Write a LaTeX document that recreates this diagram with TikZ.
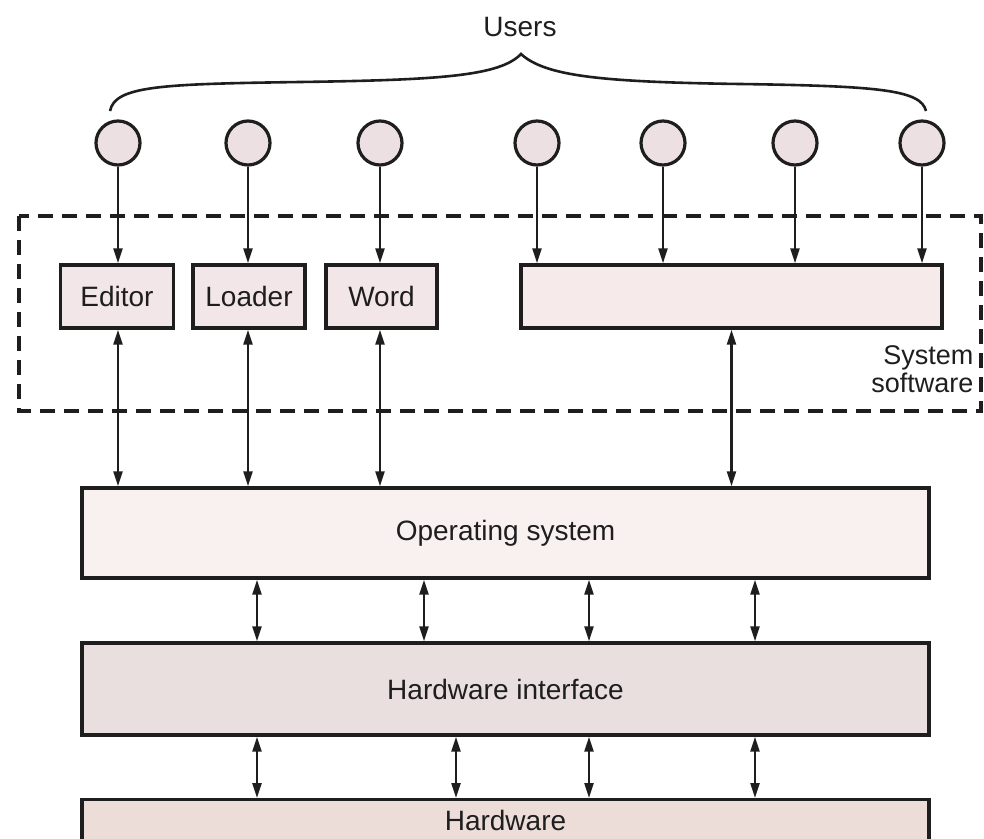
\documentclass[tikz,border=0pt]{standalone}
\usepackage{fontspec}
\setmainfont{Liberation Sans}
\usetikzlibrary{arrows.meta,shapes.geometric}

\definecolor{ink}{HTML}{1E1E1E}
\definecolor{userfill}{HTML}{ECE0E2}
\definecolor{appfill}{HTML}{F3E6E8}
\definecolor{sysfill}{HTML}{F6EAEA}
\definecolor{osfill}{HTML}{F8F1F0}
\definecolor{hifill}{HTML}{E9DFDF}
\definecolor{hwfill}{HTML}{EDDDD9}

\tikzset{
  lbl/.style={font=\fontsize{28}{30}\selectfont, text=ink},
  user/.style={ellipse, draw=ink, line width=3.2pt, fill=userfill,
    minimum width=44pt, minimum height=44pt, inner sep=0pt},
  appbox/.style={draw=ink, line width=3.4pt, fill=appfill, lbl,
    minimum height=63pt, inner sep=0pt},
  layer/.style={draw=ink, line width=3.4pt, lbl, minimum width=847pt, inner sep=0pt},
  down/.style={draw=ink, line width=2.2pt, -{Triangle[length=15pt,width=9pt]}},
  dbl/.style={draw=ink, line width=2.2pt, {Triangle[length=15pt,width=9pt]}-{Triangle[length=15pt,width=9pt]}},
  group/.style={draw=ink, line width=3.4pt, dash pattern=on 15pt off 9pt},
}

\begin{document}
\begin{tikzpicture}[x=1pt,y=-1pt]
\useasboundingbox (0,0) rectangle (984,838);
\clip (0,0) rectangle (984,838);
\fill[white] (0,0) rectangle (984,838);

% users and the brace over them
\node[lbl] (users) at (520,27) {Users};
\draw[ink, line width=2.6pt]
  (110,111) .. controls (115,86) and (160,84) .. (300,82)
            .. controls (440,80) and (500,76) .. (521,54)
            .. controls (545,76) and (600,82) .. (740,84)
            .. controls (880,86) and (921,90) .. (926,111);

\foreach \i/\x in {1/118,2/248,3/380,4/537,5/663,6/795,7/922}
  \node[user] (u\i) at (\x,143) {};

% system software group
\draw[group] (19,216) rectangle (981,411);
\node[lbl, align=right, anchor=east, font=\fontsize{27}{28}\selectfont] (syslbl) at (977,369) {System\\software};

\node[appbox, minimum width=113pt] (editor) at (117,296.5) {Editor};
\node[appbox, minimum width=112pt] (loader) at (249,296.5) {Loader};
\node[appbox, minimum width=111pt] (word)   at (381.5,296.5) {Word};
\node[appbox, minimum width=421pt, fill=sysfill] (sys) at (731.5,296.5) {};

% layers
\node[layer, fill=osfill, minimum height=90pt] (os) at (505.5,533) {Operating system};
\node[layer, fill=hifill, minimum height=92pt] (hi) at (505.5,689) {Hardware interface};
\node[layer, fill=hwfill, anchor=north, text height=31pt, text depth=40pt] (hw) at (505.5,798) {Hardware};

% users to programs
\foreach \i/\n in {1/editor,2/loader,3/word}
  \draw[down] (u\i.south) -- (u\i.south |- \n.north);
\foreach \i in {4,5,6,7}
  \draw[down] (u\i.south) -- (u\i.south |- sys.north);

% programs to operating system
\draw[dbl] (u1.south |- editor.south) -- (u1.south |- os.north);
\draw[dbl] (u2.south |- loader.south) -- (u2.south |- os.north);
\draw[dbl] (u3.south |- word.south) -- (u3.south |- os.north);
\draw[dbl] (sys.south) -- (sys.south |- os.north);

% operating system to hardware interface
\foreach \k/\x in {a/257,b/424,c/589,d/755} {
  \coordinate (p\k) at (\x,0);
  \draw[dbl] (os.south -| p\k) -- (hi.north -| p\k);
}
% hardware interface to hardware
\foreach \k/\x in {a/257,b/456,c/589,d/755} {
  \coordinate (q\k) at (\x,0);
  \draw[dbl] (hi.south -| q\k) -- (hw.north -| q\k);
}
\end{tikzpicture}
\end{document}
